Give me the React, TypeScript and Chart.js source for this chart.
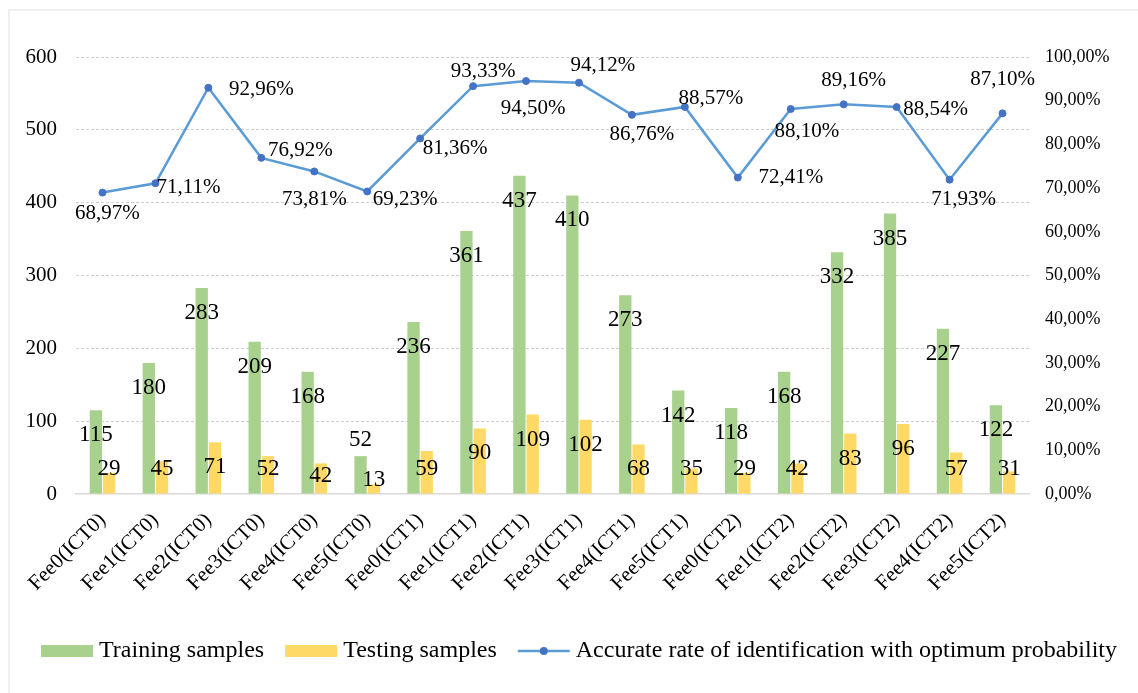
import React, { useEffect, useRef } from "react";
import { Chart, registerables } from "chart.js";

Chart.register(...registerables);

// ---------- DATA ----------
const CATEGORIES = [
  "Fee0(ICT0)", "Fee1(ICT0)", "Fee2(ICT0)", "Fee3(ICT0)", "Fee4(ICT0)", "Fee5(ICT0)",
  "Fee0(ICT1)", "Fee1(ICT1)", "Fee2(ICT1)", "Fee3(ICT1)", "Fee4(ICT1)", "Fee5(ICT1)",
  "Fee0(ICT2)", "Fee1(ICT2)", "Fee2(ICT2)", "Fee3(ICT2)", "Fee4(ICT2)", "Fee5(ICT2)",
];
const TRAINING = [115, 180, 283, 209, 168, 52, 236, 361, 437, 410, 273, 142, 118, 168, 332, 385, 227, 122];
const TESTING = [29, 45, 71, 52, 42, 13, 59, 90, 109, 102, 68, 35, 29, 42, 83, 96, 57, 31];
const ACCURACY = [68.97, 71.11, 92.96, 76.92, 73.81, 69.23, 81.36, 93.33, 94.5, 94.12, 86.76, 88.57, 72.41, 88.1, 89.16, 88.54, 71.93, 87.1];

const SERIES_NAMES = ["Training samples", "Testing samples", "Accurate rate of identification with optimum probability"];

// ---------- STYLE ----------
const FONT = "'Liberation Serif', 'Times New Roman', serif";
const GREEN = "#A9D18E";
const YELLOW = "#FFD966";
const LINE_BLUE = "#5B9BD5";
const POINT_BLUE = "#4472C4";

// label placement (px offsets, styling only)
const TRAIN_LABEL_DY = [25, 25, 25, 25, 25, -16, 25, 25, 25, 25, 25, 25, 25, 25, 25, 25, 25, 25];
const TEST_LABEL_FLOOR = [25, 25, 25, 25, 18, 14, 25, 25, 25, 25, 25, 25, 25, 25, 25, 25, 25, 25];
const PCT_LABEL_OFFSET: [number, number][] = [
  [5, 21], [33, 4], [53, 2], [39, -7], [0, 28], [38, 8],
  [35, 10], [10, -15], [7, 27], [24, -17], [10, 20], [26, -8],
  [53, 0], [16, 22], [10, -24], [39, 2], [14, 20], [0, -34],
];

const fmtPct = (v: number) => v.toFixed(2).replace(".", ",") + "%";

const labelPlugin = {
  id: "valueLabels",
  afterDatasetsDraw(chart: any) {
    const ctx = chart.ctx;
    const base = chart.scales.y.getPixelForValue(0);
    ctx.save();
    ctx.fillStyle = "#000";
    ctx.textAlign = "center";
    ctx.textBaseline = "middle";
    ctx.font = `23px ${FONT}`;
    chart.getDatasetMeta(0).data.forEach((bar: any, i: number) => {
      ctx.fillText(String(TRAINING[i]), bar.x, bar.y + TRAIN_LABEL_DY[i]);
    });
    chart.getDatasetMeta(1).data.forEach((bar: any, i: number) => {
      const y = Math.min(bar.y + 25, base - TEST_LABEL_FLOOR[i]);
      ctx.fillText(String(TESTING[i]), bar.x, y);
    });
    ctx.font = `21px ${FONT}`;
    chart.getDatasetMeta(2).data.forEach((pt: any, i: number) => {
      const [dx, dy] = PCT_LABEL_OFFSET[i];
      ctx.fillText(fmtPct(ACCURACY[i]), pt.x + dx, pt.y + dy);
    });
    ctx.restore();
  },
};

const legendPlugin = {
  id: "customLegend",
  afterDraw(chart: any) {
    const ctx = chart.ctx;
    const BOX = 52, GAP = 6, ITEM_GAP = 21;
    ctx.save();
    ctx.font = `24px ${FONT}`;
    const dsList = chart.data.datasets;
    const widths = dsList.map((ds: any) => BOX + GAP + ctx.measureText(ds.label).width);
    const total = widths.reduce((a: number, b: number) => a + b, 0) + ITEM_GAP * (dsList.length - 1);
    let x = (chart.width - total) / 2 + 5;
    const cy = chart.chartArea.bottom + 157;
    dsList.forEach((ds: any, i: number) => {
      if (ds.type === "line") {
        ctx.strokeStyle = ds.borderColor;
        ctx.lineWidth = 2.5;
        ctx.beginPath();
        ctx.moveTo(x, cy);
        ctx.lineTo(x + BOX, cy);
        ctx.stroke();
        ctx.fillStyle = ds.pointBackgroundColor;
        ctx.beginPath();
        ctx.arc(x + BOX / 2, cy, 4, 0, Math.PI * 2);
        ctx.fill();
      } else {
        ctx.fillStyle = ds.backgroundColor;
        ctx.fillRect(x, cy - 6, BOX, 12);
      }
      ctx.fillStyle = "#000";
      ctx.textAlign = "left";
      ctx.textBaseline = "middle";
      ctx.fillText(ds.label, x + BOX + GAP, cy);
      x += widths[i] + ITEM_GAP;
    });
    ctx.restore();
  },
};

export default function App() {
  const canvasRef = useRef<HTMLCanvasElement | null>(null);

  useEffect(() => {
    const canvas = canvasRef.current;
    if (!canvas) return;
    const chart = new Chart(canvas, {
      type: "bar",
      data: {
        labels: CATEGORIES,
        datasets: [
          {
            type: "bar",
            label: SERIES_NAMES[0],
            data: TRAINING,
            backgroundColor: GREEN,
            yAxisID: "y",
            categoryPercentage: 0.5,
            barPercentage: 0.93,
            order: 2,
          },
          {
            type: "bar",
            label: SERIES_NAMES[1],
            data: TESTING,
            backgroundColor: YELLOW,
            yAxisID: "y",
            categoryPercentage: 0.5,
            barPercentage: 0.93,
            order: 2,
          },
          {
            type: "line",
            label: SERIES_NAMES[2],
            data: ACCURACY,
            borderColor: LINE_BLUE,
            borderWidth: 2.5,
            pointBackgroundColor: POINT_BLUE,
            pointBorderColor: POINT_BLUE,
            pointRadius: 3.5,
            pointBorderWidth: 1,
            tension: 0,
            yAxisID: "y1",
            order: 1,
          } as any,
        ],
      },
      options: {
        responsive: false,
        animation: false,
        layout: { padding: { top: 46, left: 0, right: 0, bottom: 0 } },
        plugins: {
          legend: { display: false },
          tooltip: { enabled: false },
        },
        scales: {
          x: {
            grid: { display: false, drawTicks: false },
            border: { display: true, color: "#d9d9d9", width: 1.5 },
            ticks: {
              autoSkip: false,
              maxRotation: 45,
              minRotation: 45,
              padding: 14,
              color: "#000",
              font: { family: FONT, size: 21 },
            },
            afterFit: (s: any) => {
              s.height = 199;
            },
          },
          y: {
            position: "left",
            min: 0,
            max: 600,
            ticks: {
              stepSize: 100,
              padding: 19,
              color: "#000",
              font: { family: FONT, size: 21 },
            },
            grid: {
              drawTicks: false,
              lineWidth: 1,
              color: (c: any) => (c.tick && c.tick.value === 0 ? "rgba(0,0,0,0)" : "#cfcfcf"),
            },
            border: { display: false, dash: [3, 2] },
            afterFit: (s: any) => {
              s.width = 66;
            },
          },
          y1: {
            position: "right",
            min: 0,
            max: 100,
            ticks: {
              stepSize: 10,
              padding: 16,
              color: "#000",
              font: { family: FONT, size: 18 },
              callback: (v: any) => fmtPct(Number(v)),
            },
            grid: { display: false, drawTicks: false },
            border: { display: false },
            afterFit: (s: any) => {
              s.width = 109;
            },
          },
        },
      },
      plugins: [labelPlugin, legendPlugin],
    });
    return () => chart.destroy();
  }, []);

  return (
    <div
      style={{
        position: "fixed",
        left: 8,
        top: 9,
        width: 1130,
        height: 684,
        borderLeft: "2px solid #efefef",
        borderTop: "2px solid #efefef",
        boxSizing: "border-box",
        background: "#fff",
      }}
    >
      <canvas ref={canvasRef} width={1128} height={682} style={{ display: "block" }} />
    </div>
  );
}
